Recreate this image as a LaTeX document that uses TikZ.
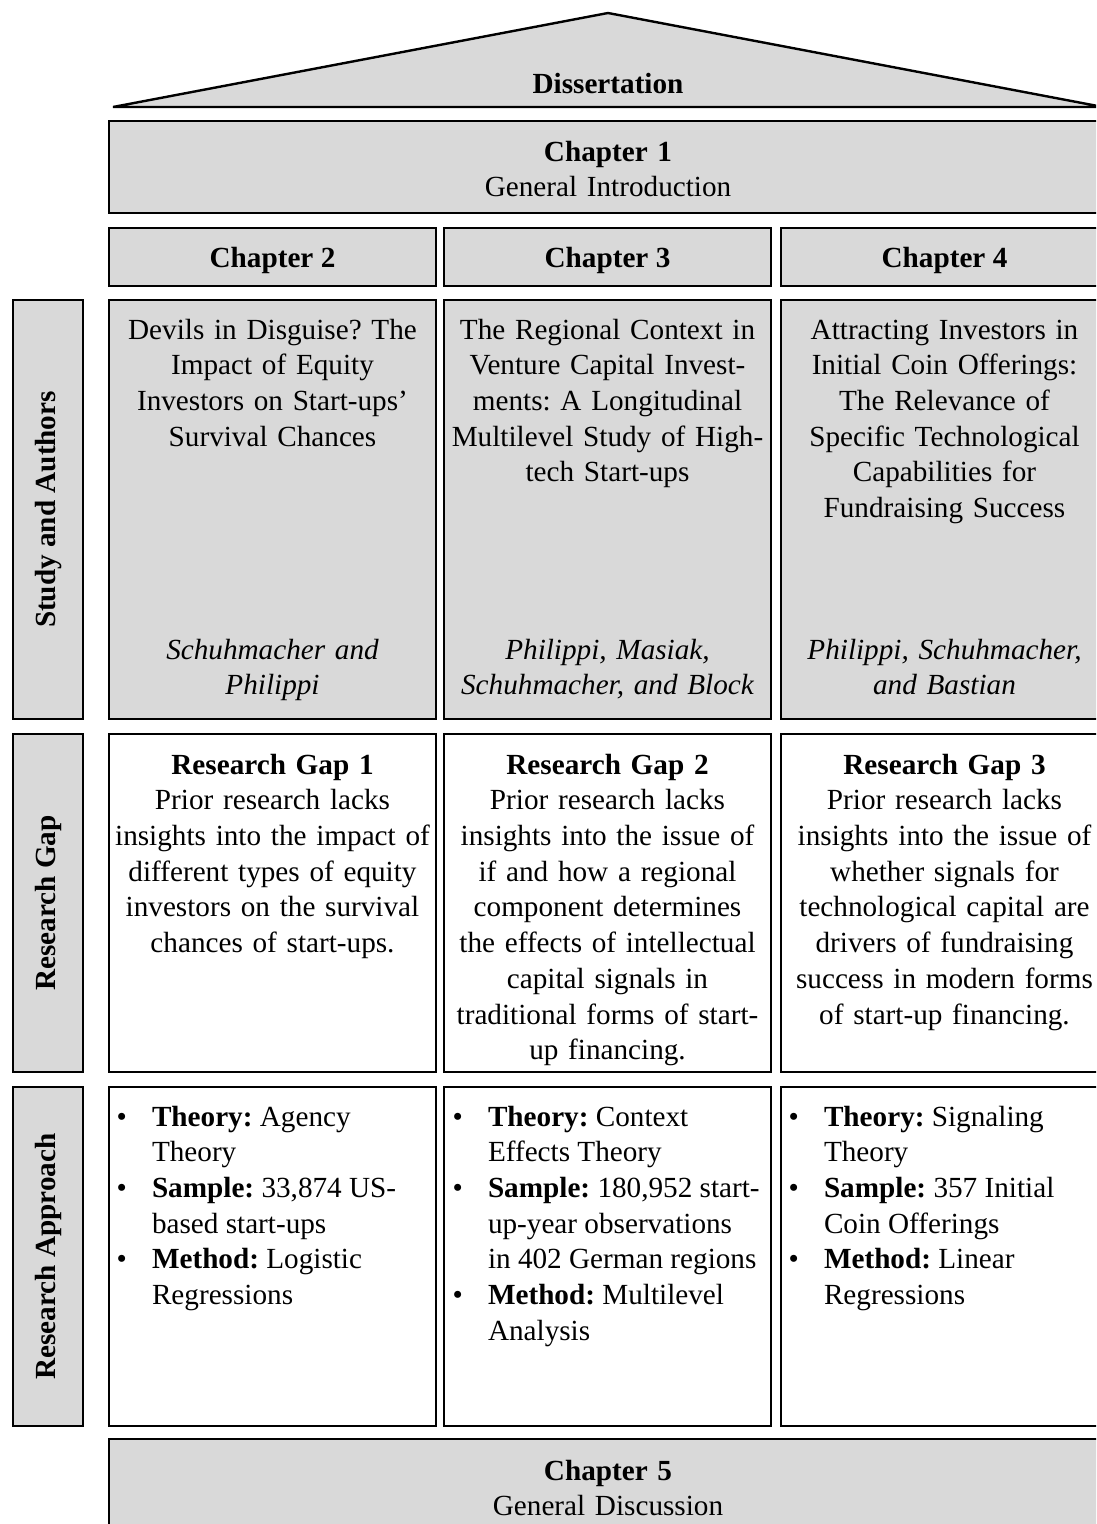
\documentclass[tikz,border=0pt]{standalone}
\usepackage{fontspec}
\setmainfont{Liberation Serif}
\definecolor{boxgrey}{RGB}{217,217,217}
\newcommand\bul{\makebox[0pt][r]{\textbullet\hspace{18.8pt}}}
\newcommand\fs{\fontsize{21.9}{26.8}\selectfont}
\frenchspacing
\begin{document}
\frenchspacing
\begin{tikzpicture}[x=0.75pt,y=-0.75pt,
  line join=miter,
  wbox/.style={draw=black, line width=1.8pt, fill=white},
  gbox/.style={draw=black, line width=1.8pt, fill=boxgrey},
  txt/.style={font=\fs, inner sep=0pt, outer sep=0pt},
  ctext/.style={txt, align=center, text width=330*0.75pt, anchor=north},
  ltext/.style={txt, align=left, anchor=north west},
  one/.style={txt, anchor=base},
  bold/.style={font=\fs\bfseries},
  ital/.style={font=\fs\itshape},
  side/.style={txt, font=\fs\bfseries, rotate=90, anchor=base}
]
\useasboundingbox (0,0) rectangle (1096,1524);
\clip (0,0) rectangle (1096,1524);

% roof
\draw[gbox] (113,107) -- (608,13) -- (1103,107) -- cycle;
\node[one, bold] (diss) at (608,93) {Dissertation};

% chapter 1
\draw[gbox] (109,121) rectangle (1108,213);
\node[ctext] (ch1) at (608,136) {\strut\textbf{Chapter 1}\\General Introduction};

% chapter headers
\draw[gbox] (109,228) rectangle (436,286);
\draw[gbox] (444,228) rectangle (771,286);
\draw[gbox] (781,228) rectangle (1108,286);
\node[one, bold] (ch2) at (272.5,267) {Chapter 2};
\node[one, bold] (ch3) at (607.5,267) {Chapter 3};
\node[one, bold] (ch4) at (944.5,267) {Chapter 4};

% side labels
\draw[gbox] (13,300) rectangle (83,719);
\draw[gbox] (13,734) rectangle (83,1072);
\draw[gbox] (13,1087) rectangle (83,1426);
\node[side] (lstudy) at (55,509.5) {Study and Authors};
\node[side] (lgap) at (55,903) {Research Gap};
\node[side] (lappr) at (55,1256.5) {Research Approach};

% study row
\draw[gbox] (109,300) rectangle (436,719);
\draw[gbox] (444,300) rectangle (771,719);
\draw[gbox] (781,300) rectangle (1108,719);
\node[ctext] (t2) at (272.5,314) {\strut Devils in Disguise? The\\Impact of Equity\\Investors on Start-ups’\\Survival Chances};
\node[ctext] (t3) at (607.5,314) {\strut The Regional Context in\\Venture Capital Invest-\\ments: A Longitudinal\\Multilevel Study of High-\\tech Start-ups};
\node[ctext] (t4) at (944.5,314) {\strut Attracting Investors in\\Initial Coin Offerings:\\The Relevance of\\Specific Technological\\Capabilities for\\Fundraising Success};
\node[ctext, ital] (a2) at (272.5,634) {\strut Schuhmacher and\\Philippi};
\node[ctext, ital] (a3) at (607.5,634) {\strut Philippi, Masiak,\\Schuhmacher, and Block};
\node[ctext, ital] (a4) at (944.5,634) {\strut Philippi, Schuhmacher,\\and Bastian};

% research gap row
\draw[wbox] (109,734) rectangle (436,1072);
\draw[wbox] (444,734) rectangle (771,1072);
\draw[wbox] (781,734) rectangle (1108,1072);
\node[ctext] (g1) at (272.5,749) {\strut\textbf{Research Gap 1}\\Prior research lacks\\insights into the impact of\\different types of equity\\investors on the survival\\chances of start-ups.};
\node[ctext] (g2) at (607.5,749) {\strut\textbf{Research Gap 2}\\Prior research lacks\\insights into the issue of\\if and how a regional\\component determines\\the effects of intellectual\\capital signals in\\traditional forms of start-\\up financing.};
\node[ctext] (g3) at (944.5,749) {\strut\textbf{Research Gap 3}\\Prior research lacks\\insights into the issue of\\whether signals for\\technological capital are\\drivers of fundraising\\success in modern forms\\of start-up financing.};

% research approach row
\draw[wbox] (109,1087) rectangle (436,1426);
\draw[wbox] (444,1087) rectangle (771,1426);
\draw[wbox] (781,1087) rectangle (1108,1426);
\node[ltext] (r1) at (152,1101) {\strut\bul\textbf{Theory:} Agency\\Theory\\\bul\textbf{Sample:} 33,874 US-\\based start-ups\\\bul\textbf{Method:} Logistic\\Regressions};
\node[ltext] (r2) at (488,1101) {\strut\bul\textbf{Theory:} Context\\Effects Theory\\\bul\textbf{Sample:} 180,952 start-\\up-year observations\\in 402 German regions\\\bul\textbf{Method:} Multilevel\\Analysis};
\node[ltext] (r3) at (824,1101) {\strut\bul\textbf{Theory:} Signaling\\Theory\\\bul\textbf{Sample:} 357 Initial\\Coin Offerings\\\bul\textbf{Method:} Linear\\Regressions};

% chapter 5
\draw[gbox] (109,1439) rectangle (1108,1570);
\node[ctext] (ch5) at (608,1455) {\strut\textbf{Chapter 5}\\General Discussion};
\end{tikzpicture}
\end{document}
